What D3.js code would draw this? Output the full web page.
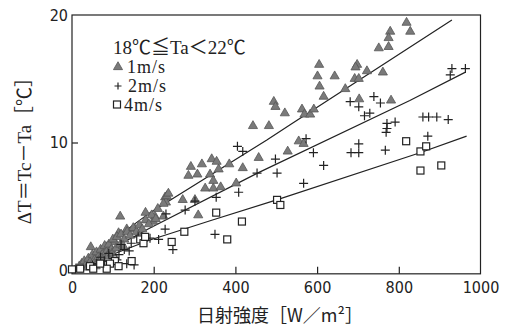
<!DOCTYPE html>
<html>
<head>
<meta charset="utf-8">
<script src="https://cdn.jsdelivr.net/npm/d3@7"></script>
<style>
  body { margin: 0; background: #fff; }
  svg { display: block; }
  .tick text { font-family: "Liberation Sans Narrow", "DejaVu Sans Condensed", sans-serif; font-size: 16px; fill: #222; }
</style>
</head>
<body>
<div id="chart"></div>
<script>
// 1 m/s  (triangles)
const wind1 = [
  [819,19.4],[828,18.7],[779,18.7],[775,18.2],[775,17.5],[751,17.4],[761,15.5],[722,15.6],
  [698,16.1],[694,15.9],[692,15.0],[702,15.0],[605,16.1],[601,15.2],[606,14.4],[643,15.2],
  [616,13.6],[669,14.2],[703,13.4],[781,13.3],[494,13.2],[498,12.8],[521,12.3],[563,12.6],
  [569,12.2],[583,12.2],[592,12.6],[443,11.3],[482,11.3],[555,10.1],[567,9.9],[528,9.3],
  [457,8.8],[418,8.0],[385,8.3],[342,8.7],[354,8.5],[318,8.3],[291,8.1],[285,7.4],
  [307,7.5],[338,7.5],[359,7.9],[346,7.0],[326,6.4],[346,6.4],[364,6.5],[402,6.8],
  [271,5.5],[301,5.5],[228,5.7],[230,5.3],[224,5.2],[309,4.3],[118,4.2],[180,4.5],
  [203,4.2],[224,4.2],[134,3.2],[154,3.2],[199,3.8],[114,2.9],[46,1.8],[85,1.8],[105,2.2],
  [10,0.1],[18,0.3],[24,0.5],[30,0.7],[34,0.4],[40,0.9],[44,0.6],[50,1.2],[55,0.8],
  [60,1.4],[64,1.0],[70,1.6],[74,1.2],[80,1.9],[84,1.4],[90,2.0],[96,1.6],[100,2.4],
  [110,2.6],[120,2.8],[128,2.4],[135,3.0],[142,2.7],[150,3.3],[158,3.0],[165,3.5],
  [172,3.2],[180,3.9],[188,3.6],[195,4.3],[205,4.0],[210,4.8],[232,5.8],[236,6.0],
  [62,0.6],[72,0.9],[88,1.1],[98,1.3],[108,1.7],[118,2.0],[125,1.9],[38,0.2],[58,0.3]
];

// 2 m/s  (plus)
const wind2 = [
  [930,15.8],[963,15.8],[926,15.3],[681,13.2],[702,12.8],[739,13.6],[755,13.1],[716,12.1],
  [729,12.3],[771,11.5],[791,11.6],[771,11.1],[769,10.8],[859,12.0],[873,12.0],[893,12.0],
  [921,11.8],[871,10.5],[702,9.9],[683,9.2],[702,9.2],[767,9.4],[573,10.3],[591,9.2],
  [616,8.2],[567,6.8],[498,8.7],[502,7.6],[405,9.7],[418,9.3],[453,7.6],[408,6.1],
  [353,5.7],[350,2.8],[228,3.2],[247,1.6],[191,2.5],[212,2.4],[277,4.7],[301,5.4],
  [230,4.4],[152,0.4],[134,0.5],[175,2.4],[162,2.6],[145,2.1],[128,1.6],[115,1.2],
  [100,0.9],[90,1.3],[80,0.7],[70,1.0],[60,0.5],[50,0.4],[120,2.0],[140,1.5],[110,0.8]
];

// 4 m/s  (squares)
const wind4 = [
  [0,0.05],[818,10.1],[853,9.3],[867,9.7],[853,7.8],[904,8.2],[502,5.5],[510,5.1],
  [416,3.8],[353,4.5],[380,2.4],[275,3.0],[244,2.2],[167,2.4],[175,2.1],[179,2.6],
  [146,0.7],[105,0.7],[114,0.3],[93,0.5],[44,0.3],[52,0.1],[20,0.1],[85,0.1],[69,0.5]
];

// fitted lines
const fit1 = [[0,0],[77,1.8],[191,4.5],[477,10.2],[534,11.4],[930,19.6]];
const fit2 = [[0,0],[191,3.3],[454,7.6],[827,13.3],[962,15.5]];
const fit4 = [[0,0],[191,2.35],[342,3.9],[501,5.5],[852,9.2],[966,10.5]];

const xTicks = [0, 200, 400, 600, 800, 1000];
const yTicks = [0, 10, 20];

const W = 511, H = 328;
const svg = d3.select('#chart').append('svg')
  .attr('width', W).attr('height', H);

const x = d3.scaleLinear().domain([0, 1000]).range([72, 480.5]);
const y = d3.scaleLinear().domain([0, 20]).range([270, 15]);
const bottom = y(-0.3);

// frame
svg.append('rect')
  .attr('x', x(0)).attr('y', y(20))
  .attr('width', x(1000) - x(0)).attr('height', bottom - y(20))
  .attr('fill', 'none').attr('stroke', '#222').attr('stroke-width', 1.2);

const xAxis = svg.append('g')
  .attr('transform', `translate(0,${bottom})`)
  .call(d3.axisBottom(x).tickValues(xTicks).tickFormat(d3.format('d'))
    .tickSizeInner(-7).tickSizeOuter(0).tickPadding(8));
xAxis.select('.domain').remove();
xAxis.selectAll('.tick line').attr('stroke', '#222').attr('stroke-width', 1.2)
  .filter(d => d === 0 || d === 1000).remove();

const yAxis = svg.append('g')
  .attr('transform', `translate(${x(0)},0)`)
  .call(d3.axisLeft(y).tickValues(yTicks).tickFormat(d3.format('d'))
    .tickSizeInner(-6).tickSizeOuter(0).tickPadding(4));
yAxis.select('.domain').remove();
yAxis.selectAll('.tick line').attr('stroke', '#222').attr('stroke-width', 1.2)
  .filter(d => d === 0 || d === 20).remove();

// regression lines
const line = d3.line().x(d => x(d[0])).y(d => y(d[1]));
[fit1, fit2, fit4].forEach(f => {
  svg.append('path').attr('d', line(f))
    .attr('fill', 'none').attr('stroke', '#222').attr('stroke-width', 1.2);
});

const tri = d3.symbol().type(d3.symbolTriangle).size(36);

// points
svg.append('g').selectAll('path').data(wind1).enter().append('path')
  .attr('d', tri)
  .attr('transform', d => `translate(${x(d[0])},${y(d[1])})`)
  .attr('fill', '#7a7a7a').attr('stroke', '#555').attr('stroke-width', 0.8);

svg.append('g').selectAll('path').data(wind2).enter().append('path')
  .attr('d', 'M-4.5,0H4.5M0,-4.5V4.5')
  .attr('transform', d => `translate(${x(d[0])},${y(d[1])})`)
  .attr('stroke', '#222').attr('stroke-width', 1.2);

svg.append('g').selectAll('rect').data(wind4).enter().append('rect')
  .attr('x', d => x(d[0]) - 3.5).attr('y', d => y(d[1]) - 3.5)
  .attr('width', 7).attr('height', 7)
  .attr('fill', '#fff').attr('stroke', '#222').attr('stroke-width', 1.2);

// legend
const serif = '"Liberation Serif", "Noto Sans CJK JP", serif';
svg.append('text').attr('x', 113).attr('y', 54)
  .attr('font-family', serif).attr('font-size', 19).attr('fill', '#222')
  .text('18℃≦Ta＜22℃');

const legend = svg.append('g').attr('font-family', serif).attr('font-size', 18).attr('fill', '#222');
legend.append('path').attr('d', tri).attr('transform', 'translate(118,67)')
  .attr('fill', '#7a7a7a').attr('stroke', '#555').attr('stroke-width', 0.8);
legend.append('text').attr('x', 127).attr('y', 73).attr('letter-spacing', 1).text('1m/s');
legend.append('path').attr('d', 'M-3.5,0H3.5M0,-3.5V3.5').attr('transform', 'translate(118,86)')
  .attr('stroke', '#222').attr('stroke-width', 1.2);
legend.append('text').attr('x', 128).attr('y', 92).attr('letter-spacing', 1).text('2m/s');
legend.append('rect').attr('x', 113.5).attr('y', 101).attr('width', 7).attr('height', 7)
  .attr('fill', '#fff').attr('stroke', '#222').attr('stroke-width', 1.2);
legend.append('text').attr('x', 124).attr('y', 111).attr('letter-spacing', 1).text('4m/s');

// axis titles
svg.append('text')
  .attr('transform', 'translate(31,146) rotate(-90)')
  .attr('text-anchor', 'middle')
  .attr('font-family', serif).attr('font-size', 19).attr('fill', '#222')
  .text('ΔT＝Tc－Ta［℃］');

svg.append('text')
  .attr('x', 280).attr('y', 322)
  .attr('text-anchor', 'middle')
  .attr('font-family', '"Noto Sans CJK JP", serif').attr('font-size', 18).attr('fill', '#222')
  .text('日射強度［W／m²］');
</script>
</body>
</html>
